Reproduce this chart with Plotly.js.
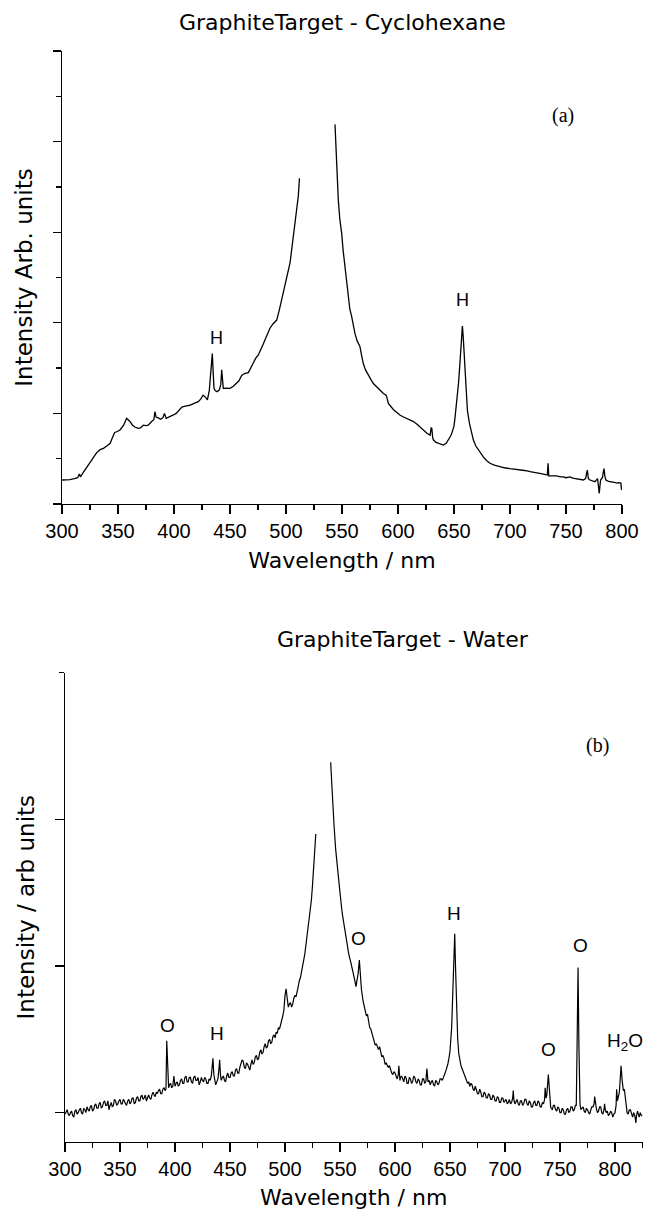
<!DOCTYPE html>
<html>
<head>
<meta charset="utf-8">
<script src="https://cdn.plot.ly/plotly-3.0.1.min.js"></script>
<style>html,body{margin:0;padding:0;background:#fff;}#chart{width:647px;height:1210px;}</style>
</head>
<body>
<div id="chart"></div>
<script>
// ---------- Panel (a): Graphite target - Cyclohexane ----------
const wavelengthA = [300,304,307,311,314,315.5,316.5,319,322,324,326.5,329,331,334,337,340,343,345,347,349.5,352,355,357.7,360.7,363,365,368,370,372.6,375,377,380,382,383,384,386,388,390,391.5,393,396,399,402,405,407,410,414,418,421.7,424,426,428,429.8,431.5,432.5,433.5,434.2,435,435.7,437,438.5,440.5,441.8,442.6,443.3,444,447,450,453,456,458,460.4,463,466.4,468.5,470.8,473,475.3,477.5,479.8,482.5,485.7,488.5,491.7,494,496,499,501.5,503.6,505,506.5,508,509.5,511,512,527,543.75,544.5,545.2,546,546.7,548,549.7,551,552.7,554,555.6,557,558.6,560,561.6,563.5,566,567.5,569,571,573.5,576,578,581,584,587,589.3,590,591.4,594,596,599,601.9,605,607.9,611,613.8,617,619.8,623,625.8,628.7,629.6,630.2,631,631.7,634,636,638,640.5,643,645,647,648,650,651,652.5,654,655,656,657,657.5,658.2,659,660,660.8,662,663.8,665.5,667.3,669.5,671.8,674,676.2,679,682.1,686,691,695,700,704,709,713,718,722,726.8,730,733.3,734,734.6,737,741.7,745,747.6,750,753.6,756,758,762,765.5,767.5,769,770,771.4,773.5,775.8,778.2,779.2,779.7,780.3,780.9,782.5,783.9,784.8,785.6,788,790.7,793,795.2,797,799,799.6];
const intensityA = [0.265,0.265,0.27,0.28,0.29,0.33,0.30,0.35,0.41,0.45,0.485,0.53,0.567,0.60,0.614,0.64,0.67,0.73,0.79,0.80,0.82,0.87,0.945,0.91,0.87,0.85,0.835,0.84,0.87,0.865,0.87,0.91,0.93,1.02,0.96,0.95,0.935,0.95,1.00,0.945,0.96,0.98,1.00,1.04,1.07,1.08,1.09,1.11,1.13,1.16,1.20,1.18,1.15,1.25,1.40,1.60,1.66,1.45,1.277,1.25,1.24,1.26,1.32,1.48,1.35,1.277,1.28,1.277,1.30,1.33,1.36,1.42,1.44,1.45,1.50,1.57,1.61,1.645,1.70,1.77,1.85,1.94,1.99,2.03,2.14,2.25,2.38,2.52,2.66,2.80,2.95,3.06,3.21,3.40,3.595,null,4.19,3.95,3.72,3.50,3.355,3.15,2.99,2.80,2.62,2.42,2.25,2.15,2.07,1.97,1.88,1.80,1.74,1.64,1.55,1.48,1.42,1.37,1.33,1.29,1.26,1.22,1.20,1.18,1.11,1.07,1.04,1.01,0.98,0.96,0.945,0.93,0.91,0.88,0.85,0.81,0.78,0.76,0.84,0.835,0.73,0.706,0.68,0.67,0.655,0.65,0.67,0.706,0.75,0.78,0.86,0.964,1.12,1.33,1.50,1.70,1.90,1.965,1.85,1.66,1.42,1.22,1.03,0.89,0.78,0.706,0.64,0.596,0.55,0.52,0.48,0.45,0.43,0.41,0.40,0.39,0.385,0.375,0.37,0.357,0.35,0.34,0.33,0.32,0.45,0.31,0.31,0.31,0.30,0.30,0.29,0.30,0.285,0.28,0.27,0.265,0.28,0.375,0.28,0.265,0.255,0.246,0.28,0.20,0.118,0.20,0.265,0.29,0.39,0.30,0.265,0.25,0.246,0.24,0.23,0.235,0.23,0.155];
const peakLabelsA = ['H','H'];
const peakLabelWlA = [437.5, 658];
const peakLabelIntA = [1.83, 2.25];

// ---------- Panel (b): Graphite target - Water ----------
const wavelengthB = [
  300,301,302,303,304,305,306,307,308,309,
  310,311,312,313,314,315,316,317,318,319,
  320,321,322,323,324,325,326,327,328,329,
  330,331,332,333,334,335,336,337,338,339,
  340,341,342,343,344,345,346,347,348,349,
  350,351,352,353,354,355,356,357,358,359,
  360,361,362,363,364,365,366,367,368,369,
  370,371,372,373,374,375,376,377,378,379,
  380,381,382,383,384,385,386,387,388,389,
  390,
  391,391.8,392.5,393.3,394.2,395,396,397,398,399,
  400,401,402,403,404,405,406,407,408,409,
  410,411,412,413,414,415,416,417,418,419,
  420,421,422,423,424,425,426,427,428,429,
  430,431,432,433,433.8,434.5,435.3,436,437,438,
  439,440,440.6,441.3,442,443,444,445,446,447,
  448,449,450,451,452,453,454,455,456,457,
  458,459,460,461,462,463,464,465,466,467,
  468,469,470,471,472,473,474,475,476,477,
  478,479,480,481,482,483,484,485,486,487,
  488,489,490,491,492,493,494,495,496,497,
  498,499,500,501,502,503,504,505,506,507,
  508,509,510,511,512,513,514,515,516,517,
  518,519,520,521,522,523,524,525,
  526.5,528,535,
  541.5,543,544.5,546,548,550,552,554,556,558,
  560,562,563.5,564.5,565.5,566.5,567.6,568.5,569.5,571,
  572,573,574,575,576,577,578,579,580,581,
  582,583,584,585,586,587,588,589,590,591,
  592,593,594,595,596,597,598,599,
  600,601,602,603,603.5,604.5,605,606,607,608,
  609,610,611,612,613,614,615,616,617,618,
  619,620,621,622,623,624,625,626,627,628,
  629,630,631,632,633,634,635,636,637,638,
  639,640,641,642,643,644,645,646,647,648,
  649,650,651.5,652.5,653.5,654.3,655,656,657,658,
  659,660,661,662,663,664,665,666,667,668,
  669,670,671,672,673,674,675,676,677,678,
  679,680,681,682,683,684,685,686,687,688,
  689,690,691,692,693,694,695,696,697,698,
  699,700,701,702,703,704,705,706,707,707.5,
  708,709,710,711,712,713,714,715,716,717,
  718,719,720,721,722,723,724,725,726,727,
  728,729,730,731,732,733,734,735,736,736.5,
  737.3,738,739.4,740.5,741.5,742,743,744,745,746,
  747,748,749,750,751,752,753,754,755,756,
  757,758,759,760,761,762,763,764,764.8,765.6,
  766.4,767.2,768.2,769,770,771,772,773,774,775,
  776,777,778,779,780,781,781.5,782.2,783,784,
  785,786,787,788,789,790,790.5,791.2,792,793,
  794,795,796,797,798,799,800,801,801.5,802.2,
  803,804,804.5,805.5,806.5,807.6,808.5,809,810,810.6,
  811,812,813,814,815,816,817,818,819,819.5,
  820.5,821,822,823,824,825
];
const intensityB = [
  -0.01,0.01,0.02,-0.01,-0.02,0.00,0.01,-0.02,-0.03,0.01,
  0.02,-0.01,0.00,0.02,0.03,0.00,-0.01,0.03,0.02,0.00,
  0.04,0.02,0.01,0.04,0.05,0.01,0.02,0.05,0.06,0.03,
  0.03,0.06,0.07,0.03,0.04,0.07,0.08,0.05,0.05,0.08,
  0.02,0.05,0.07,0.04,0.05,0.09,0.08,0.05,0.06,0.08,
  0.09,0.06,0.06,0.09,0.08,0.06,0.05,0.08,0.09,0.06,
  0.07,0.10,0.10,0.06,0.07,0.10,0.11,0.08,0.08,0.11,
  0.12,0.09,0.10,0.12,0.08,0.10,0.12,0.10,0.09,0.12,
  0.14,0.12,0.11,0.14,0.13,0.15,0.16,0.13,0.13,0.16,
  0.17,
  0.15,0.16,0.49,0.30,0.17,0.19,0.20,0.17,0.18,0.25,
  0.18,0.20,0.21,0.18,0.19,0.22,0.23,0.20,0.20,0.24,
  0.25,0.21,0.21,0.24,0.24,0.21,0.20,0.24,0.25,0.22,
  0.22,0.24,0.19,0.21,0.24,0.22,0.21,0.24,0.23,0.20,
  0.20,0.23,0.22,0.25,0.33,0.37,0.26,0.22,0.19,0.21,
  0.23,0.30,0.36,0.26,0.22,0.24,0.25,0.22,0.21,0.25,
  0.27,0.24,0.24,0.27,0.28,0.25,0.25,0.29,0.30,0.27,
  0.27,0.31,0.33,0.36,0.35,0.31,0.30,0.34,0.33,0.30,
  0.29,0.33,0.36,0.33,0.34,0.38,0.39,0.36,0.37,0.41,
  0.43,0.40,0.41,0.45,0.47,0.44,0.45,0.49,0.50,0.47,
  0.48,0.52,0.53,0.51,0.55,0.54,0.58,0.57,0.61,0.63,
  0.66,0.70,0.80,0.845,0.78,0.72,0.74,0.75,0.72,0.74,
  0.78,0.80,0.79,0.84,0.86,0.90,0.92,0.96,0.99,1.04,
  1.08,1.14,1.19,1.26,1.31,1.37,1.45,1.55,
  1.70,1.90,null,
  2.39,2.15,1.97,1.80,1.63,1.50,1.36,1.26,1.16,1.08,
  1.02,0.96,0.90,0.86,0.90,0.95,1.04,0.95,0.84,0.76,
  0.72,0.70,0.66,0.67,0.61,0.58,0.57,0.54,0.52,0.50,
  0.46,0.47,0.44,0.43,0.45,0.40,0.38,0.39,0.37,0.33,
  0.34,0.32,0.31,0.32,0.29,0.27,0.26,0.28,
  0.27,0.24,0.23,0.26,0.32,0.22,0.24,0.25,0.22,0.21,
  0.25,0.24,0.20,0.20,0.24,0.23,0.20,0.21,0.25,0.24,
  0.21,0.20,0.23,0.22,0.19,0.19,0.23,0.23,0.20,0.21,
  0.30,0.21,0.22,0.19,0.21,0.22,0.19,0.18,0.22,0.21,
  0.19,0.20,0.23,0.23,0.22,0.25,0.26,0.28,0.30,0.33,
  0.37,0.42,0.58,0.78,1.05,1.22,1.00,0.72,0.50,0.40,
  0.35,0.32,0.30,0.27,0.26,0.24,0.22,0.20,0.21,0.18,
  0.20,0.19,0.16,0.15,0.18,0.16,0.13,0.13,0.16,0.14,
  0.11,0.11,0.14,0.13,0.10,0.10,0.13,0.12,0.09,0.09,
  0.12,0.11,0.08,0.08,0.11,0.10,0.07,0.07,0.10,0.10,
  0.07,0.08,0.09,0.06,0.07,0.09,0.06,0.07,0.10,0.15,
  0.09,0.06,0.08,0.09,0.06,0.05,0.08,0.08,0.05,0.06,
  0.09,0.09,0.06,0.05,0.08,0.07,0.04,0.04,0.07,0.08,
  0.05,0.05,0.08,0.07,0.04,0.04,0.07,0.06,0.09,0.17,
  0.10,0.12,0.26,0.12,0.04,0.03,0.02,0.05,0.05,0.02,
  0.01,0.04,0.03,0.00,0.00,0.03,0.02,-0.01,-0.01,0.02,
  0.03,0.00,0.01,0.04,0.04,0.01,0.02,0.05,0.05,0.50,
  0.99,0.45,0.06,0.02,0.03,0.04,0.01,0.00,0.03,0.02,
  0.00,-0.01,0.02,0.04,0.04,0.06,0.11,0.05,0.03,0.00,
  0.01,0.04,0.04,0.00,-0.01,0.02,0.06,0.02,0.00,0.01,
  -0.02,-0.01,0.01,0.00,-0.03,-0.01,0.00,0.05,0.16,0.08,
  0.10,0.14,0.20,0.32,0.22,0.15,0.16,0.12,0.05,0.02,
  0.00,-0.01,0.02,0.02,-0.01,-0.03,0.00,-0.02,-0.07,-0.02,
  0.01,-0.01,-0.03,0.00,-0.02,-0.02
];
const peakLabelsB = ['O','H','O','H','O','O','H<sub>2</sub>O'];
const peakLabelWlB = [393, 438.5, 566.6, 653.6, 739.1, 768.2, 809];
const peakLabelIntB = [0.594, 0.54, 1.19, 1.36, 0.43, 1.14, 0.48];

const W = 647, H = 1210;
const px = v => v / W;
const py = v => 1 - v / H;

const sans = 'Liberation Sans, Arial, Helvetica, sans-serif';
const wide = 'DejaVu Sans, sans-serif';

const traces = [
  {x: wavelengthA, y: intensityA, type: 'scatter', mode: 'lines', line: {color: '#000', width: 1.3}, xaxis: 'x', yaxis: 'y', connectgaps: false},
  {x: wavelengthB, y: intensityB, type: 'scatter', mode: 'lines', line: {color: '#000', width: 1.2}, xaxis: 'x2', yaxis: 'y2', connectgaps: false}
];

const axisCommon = {
  showgrid: false, zeroline: false, showline: true, linecolor: '#000', linewidth: 1.4,
  ticks: 'outside', tickcolor: '#000', tickwidth: 1.3, mirror: false, fixedrange: true
};

const annotations = [];
annotations.push({xref: 'paper', yref: 'paper', x: px(342), y: py(22), xanchor: 'center', yanchor: 'middle',
  text: 'GraphiteTarget - Cyclohexane', showarrow: false, font: {family: wide, size: 22, color: '#000'}});
annotations.push({xref: 'paper', yref: 'paper', x: px(403), y: py(639), xanchor: 'center', yanchor: 'middle',
  text: 'GraphiteTarget - Water', showarrow: false, font: {family: wide, size: 22, color: '#000'}});
annotations.push({xref: 'x', yref: 'y', x: 747.3, y: 4.29, xanchor: 'center', yanchor: 'middle',
  text: '(a)', showarrow: false, font: {family: 'Liberation Serif, Times New Roman, serif', size: 20, color: '#000'}});
annotations.push({xref: 'x2', yref: 'y2', x: 784.5, y: 2.505, xanchor: 'center', yanchor: 'middle',
  text: '(b)', showarrow: false, font: {family: 'Liberation Serif, Times New Roman, serif', size: 20, color: '#000'}});
peakLabelsA.forEach((t, i) => annotations.push({xref: 'x', yref: 'y', x: peakLabelWlA[i], y: peakLabelIntA[i],
  xanchor: 'center', yanchor: 'middle', text: t, showarrow: false, font: {family: sans, size: 18, color: '#000'}}));
peakLabelsB.forEach((t, i) => annotations.push({xref: 'x2', yref: 'y2', x: peakLabelWlB[i], y: peakLabelIntB[i],
  xanchor: 'center', yanchor: 'middle', text: t, showarrow: false, font: {family: sans, size: 19, color: '#000'}}));

const layout = {
  width: W, height: H,
  margin: {l: 0, r: 0, t: 0, b: 0},
  paper_bgcolor: '#fff', plot_bgcolor: '#fff',
  showlegend: false,
  xaxis: Object.assign({}, axisCommon, {
    domain: [px(62), px(622)], range: [300, 800], tick0: 300, dtick: 50, ticklen: 9,
    minor: {dtick: 25, tick0: 300, ticks: 'outside', ticklen: 5, tickwidth: 1.3, tickcolor: '#000', showgrid: false},
    tickfont: {family: sans, size: 20, color: '#000'},
    title: {text: 'Wavelength / nm', font: {family: wide, size: 22, color: '#000'}, standoff: 11},
    anchor: 'y'
  }),
  yaxis: Object.assign({}, axisCommon, {
    domain: [py(504), py(51)], range: [0, 5], tick0: 0, dtick: 1, ticklen: 8, showticklabels: false,
    minor: {dtick: 0.5, tick0: 0, ticks: 'outside', ticklen: 5, tickwidth: 1.3, tickcolor: '#000', showgrid: false},
    title: {text: 'Intensity Arb. units', font: {family: wide, size: 23, color: '#000'}, standoff: 13},
    anchor: 'x'
  }),
  xaxis2: Object.assign({}, axisCommon, {
    domain: [px(65), px(642.5)], range: [300, 825], tick0: 300, dtick: 50, ticklen: 9,
    minor: {dtick: 25, tick0: 300, ticks: 'outside', ticklen: 5, tickwidth: 1.3, tickcolor: '#000', showgrid: false},
    tickfont: {family: sans, size: 20, color: '#000'},
    title: {text: 'Wavelength / nm', font: {family: wide, size: 22, color: '#000'}, standoff: 11},
    anchor: 'y2'
  }),
  yaxis2: Object.assign({}, axisCommon, {
    domain: [py(1141.7), py(672.7)], range: [-0.198, 3], tickmode: 'array', tickvals: [0, 1, 2], ticklen: 9, showticklabels: false,
    minor: {tickmode: 'array', tickvals: [3], ticks: 'outside', ticklen: 5, tickwidth: 1.3, tickcolor: '#000', showgrid: false},
    title: {text: 'Intensity / arb units', font: {family: wide, size: 23, color: '#000'}, standoff: 13},
    anchor: 'x2'
  }),
  annotations: annotations
};

Plotly.newPlot('chart', traces, layout, {displayModeBar: false, staticPlot: true});
</script>
</body>
</html>
